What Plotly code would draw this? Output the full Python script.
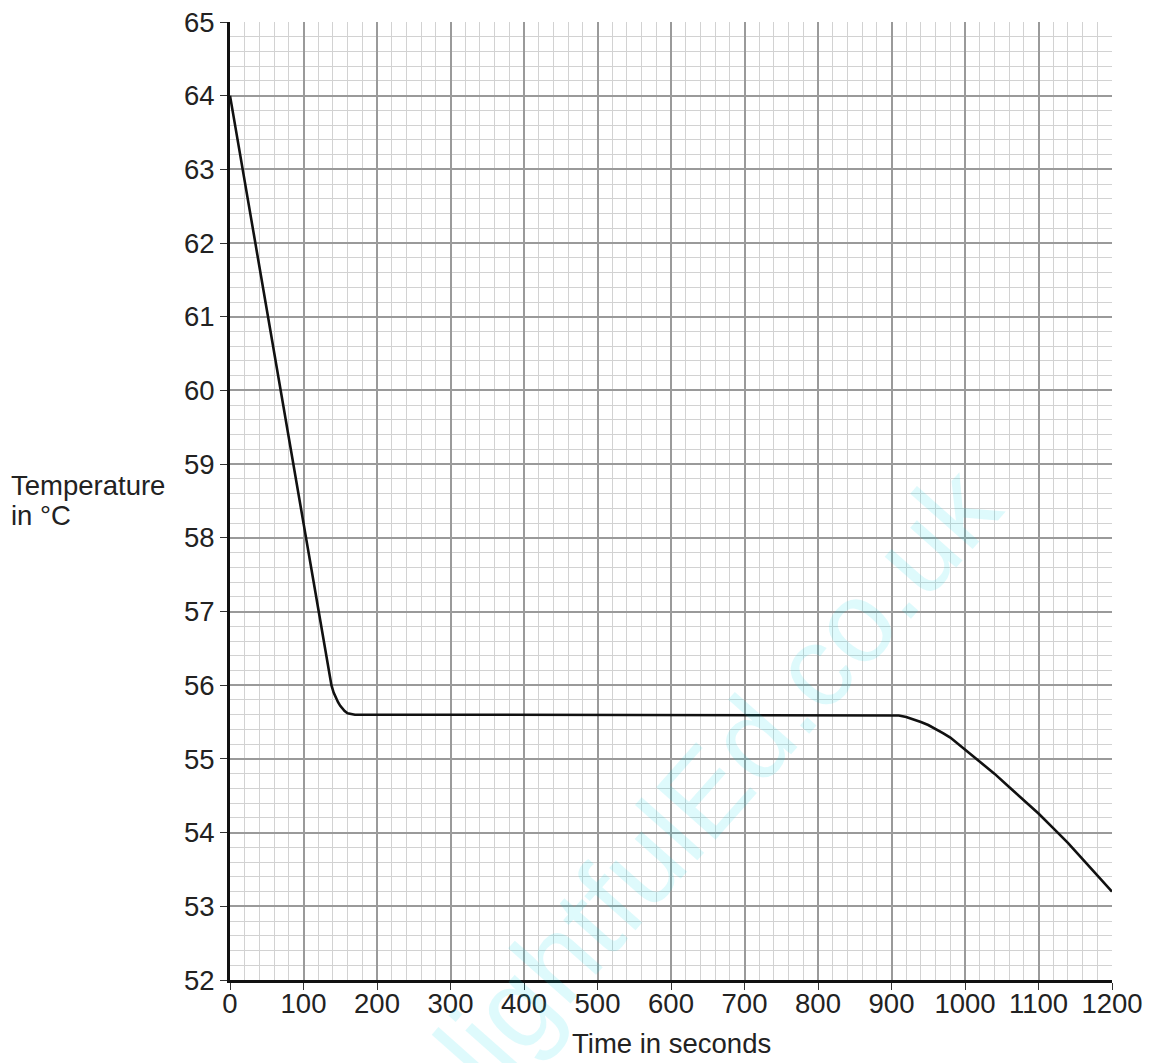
import plotly.graph_objects as go

# Data
time_s = [0, 20, 40, 60, 80, 100, 120, 130, 135, 138, 141, 144, 147, 150, 153,
          156, 160, 165, 170,
          300, 500, 700, 900, 905, 910, 920, 930, 940, 950, 960, 970, 980, 990,
          1000, 1020, 1040, 1060, 1080, 1100, 1120, 1140, 1160, 1180, 1200]
temp_c = [64.0, 62.85, 61.68, 60.52, 59.36, 58.2, 57.04, 56.46, 56.17, 56.0, 55.9,
          55.83, 55.77, 55.72, 55.68, 55.65, 55.62, 55.605, 55.6,
          55.6, 55.6, 55.6, 55.6, 55.598, 55.59, 55.57, 55.54, 55.5, 55.46,
          55.41, 55.35, 55.29, 55.21, 55.13, 54.97, 54.8, 54.62, 54.44, 54.26,
          54.06, 53.86, 53.64, 53.42, 53.2]

x_ticks = list(range(0, 1201, 100))
y_ticks = list(range(52, 66))

font_family = "Liberation Sans, Arial, sans-serif"
FS = 27.5

L, R, T, B = 222, 51, 14, 91
PW = 1155 - L - R
PH = 1063 - T - B

fig = go.Figure()
fig.add_trace(go.Scatter(
    x=time_s, y=temp_c, mode="lines",
    line=dict(color="#111111", width=2.6),
    showlegend=False, hoverinfo="skip",
))

def px_x(px):
    return (px - 8 - L) / PW

def px_y(py):
    return (1063 - B - (py - 8)) / PH

fig.update_layout(
    width=1155, height=1063,
    margin=dict(l=L, r=R, t=T, b=B, autoexpand=False),
    paper_bgcolor="white", plot_bgcolor="white",
    font=dict(family=font_family, size=FS, color="#222222"),
    xaxis=dict(
        range=[0, 1200], tickmode="array", tickvals=x_ticks,
        ticktext=[str(v) for v in x_ticks],
        tickfont=dict(family=font_family, size=FS, color="#222222"),
        ticklabeloverflow="allow", ticklabelstandoff=-10, automargin=False,
        showgrid=True, gridcolor="#9a9a9a", gridwidth=1.5,
        minor=dict(dtick=20, showgrid=True, gridcolor="#d2d2d2", gridwidth=1),
        showline=True, linecolor="#111111", linewidth=3,
        ticks="outside", ticklen=7, tickcolor="#333333", tickwidth=1,
        zeroline=False, fixedrange=True,
    ),
    yaxis=dict(
        range=[52, 65], tickmode="array", tickvals=y_ticks,
        ticktext=[str(v) for v in y_ticks],
        tickfont=dict(family=font_family, size=FS, color="#222222"),
        ticklabeloverflow="allow", automargin=False,
        showgrid=True, gridcolor="#9a9a9a", gridwidth=1.5,
        minor=dict(dtick=0.2, showgrid=True, gridcolor="#d2d2d2", gridwidth=1),
        showline=True, linecolor="#111111", linewidth=3,
        ticks="outside", ticklen=7, tickcolor="#333333", tickwidth=1,
        zeroline=False, fixedrange=True,
    ),
    annotations=[
        dict(text="Temperature", xref="paper", yref="paper",
             x=px_x(9), y=px_y(485), xanchor="left", yanchor="middle",
             align="left", showarrow=False,
             font=dict(family=font_family, size=FS, color="#222222")),
        dict(text="in °C", xref="paper", yref="paper",
             x=px_x(9), y=px_y(515), xanchor="left", yanchor="middle",
             align="left", showarrow=False,
             font=dict(family=font_family, size=FS, color="#222222")),
        dict(text="Time in seconds", xref="paper", yref="paper",
             x=0.5, y=px_y(1043), xanchor="center", yanchor="middle",
             showarrow=False,
             font=dict(family=font_family, size=FS, color="#222222")),
        dict(text="delightfulEd.co.uk", xref="paper", yref="paper",
             x=px_x(675), y=px_y(825), xanchor="center", yanchor="middle",
             textangle=-48.5, showarrow=False,
             font=dict(family=font_family, size=115, color="rgba(0,215,230,0.13)")),
    ],
)

fig.write_html("out.html")
